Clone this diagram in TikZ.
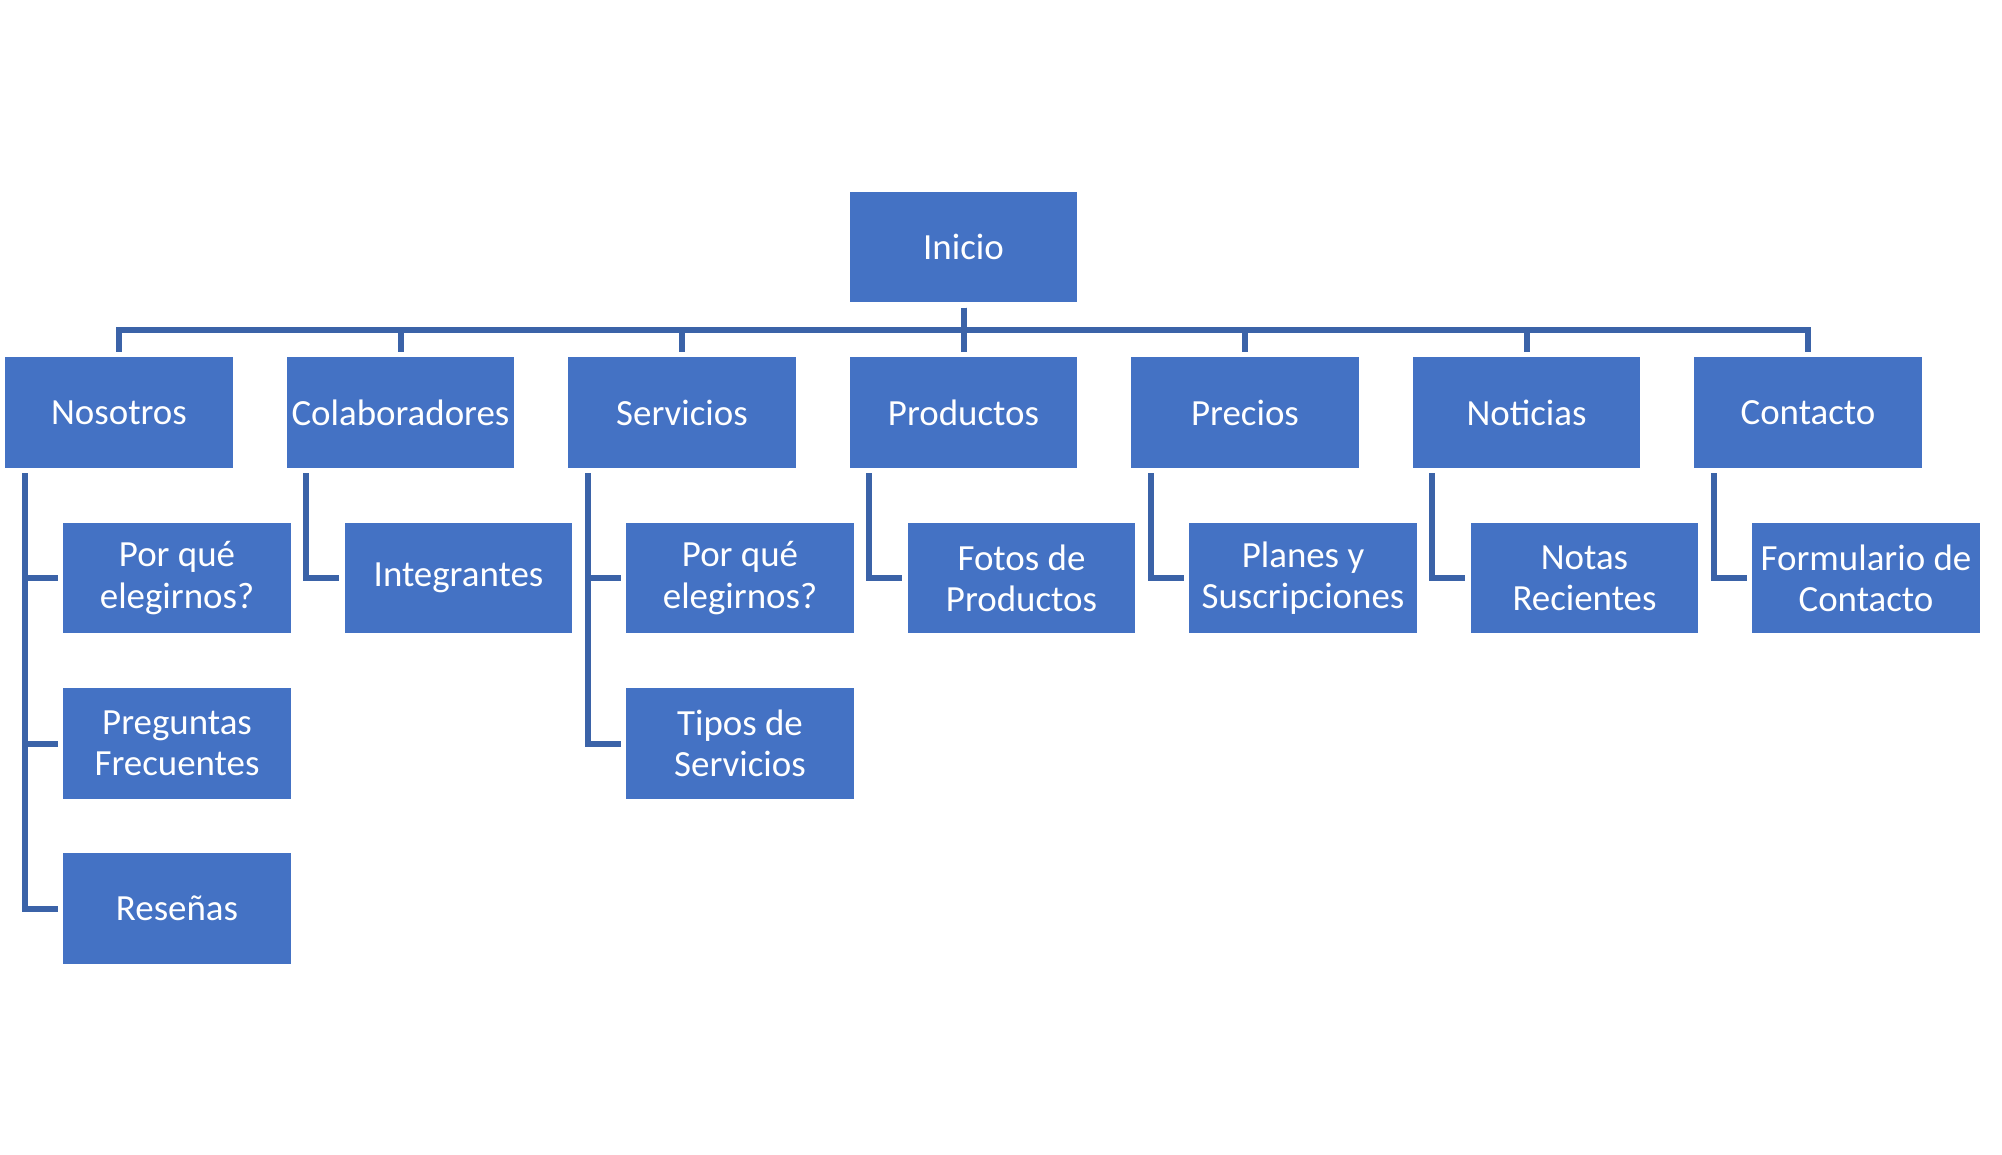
\documentclass[tikz,border=0pt]{standalone}
\usepackage{fontspec}
\setmainfont{Carlito}
\definecolor{azul}{HTML}{4472C4}
\definecolor{azulosc}{HTML}{3B63A8}
\begin{document}
\begin{tikzpicture}[x=0.02cm,y=-0.02cm,
						every node/.style = {font=\fontsize{21}{23.5}\selectfont},
						caja/.style = {fill=azul,text=white,align=center,inner sep=0pt,minimum width=4.56cm,minimum height=2.22cm},
						linea/.style = {azulosc,line width=0.12cm,shorten <=0.1cm,shorten >=0.1cm}]

					\def\sep{281.5}
					\def\fila{412.5}

					\useasboundingbox (0,0) rectangle (2002,1155);

					\node[caja](inicio) at (963.5,247){Inicio};

					\foreach \nombre/\texto [count=\i from 0] in {nosotros/Nosotros,colab/Colaboradores,servicios/Servicios,productos/Productos,precios/Precios,noticias/Noticias,contacto/Contacto}{
						\node[caja](\nombre) at ({119+\sep*\i},\fila){\texto};
						\draw[linea] (inicio.south) -- ++(0,27.5) -| (\nombre.north);
					}

					\node[caja](porqueA) at (177,578){Por qué\\elegirnos?};
					\node[caja](preguntas) at (177,743.5){Preguntas\\Frecuentes};
					\node[caja](resenas) at (177,908.5){Reseñas};
					\node[caja](integrantes) at ({177+\sep},578){Integrantes};
					\node[caja](porqueB) at ({177+2*\sep},578){Por qué\\elegirnos?};
					\node[caja](tipos) at ({177+2*\sep},743.5){Tipos de\\Servicios};
					\node[caja](fotos) at ({177+3*\sep},578){Fotos de\\Productos};
					\node[caja](planes) at ({177+4*\sep},578){Planes y\\Suscripciones};
					\node[caja](notas) at ({177+5*\sep},578){Notas\\Recientes};
					\node[caja](formulario) at ({177+6*\sep},578){Formulario de\\Contacto};

					\foreach \padre/\hijo in {nosotros/porqueA,nosotros/preguntas,nosotros/resenas,colab/integrantes,servicios/porqueB,servicios/tipos,productos/fotos,precios/planes,noticias/notas,contacto/formulario}
						\draw[linea] ([xshift=0.4cm]\padre.south west) |- (\hijo.west);

				\end{tikzpicture}
\end{document}
